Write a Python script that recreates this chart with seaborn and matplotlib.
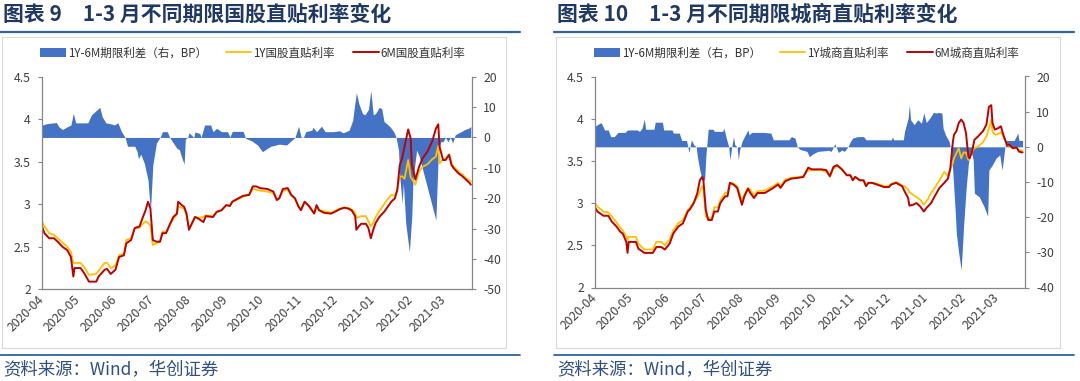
import matplotlib
matplotlib.use("Agg")
import matplotlib.pyplot as plt
import matplotlib.dates as mdates
from matplotlib.patches import Patch, Rectangle
from matplotlib.lines import Line2D
import seaborn as sns
import pandas as pd

# ---------------- 数据 ----------------
# 图表9：国股
gov_spread_dates = [
    "2020-04-01", "2020-04-06", "2020-04-13", "2020-04-15", "2020-04-18", "2020-04-21", "2020-04-25", "2020-04-27",
    "2020-04-29", "2020-05-09", "2020-05-12", "2020-05-15", "2020-05-19", "2020-05-21", "2020-05-24", "2020-05-29",
    "2020-05-31", "2020-06-03", "2020-06-06", "2020-06-09", "2020-06-11", "2020-06-17", "2020-06-19", "2020-06-20",
    "2020-06-22", "2020-06-25", "2020-06-28", "2020-06-30", "2020-07-02", "2020-07-05", "2020-07-08", "2020-07-10",
    "2020-07-14", "2020-07-16", "2020-07-19", "2020-07-22", "2020-07-24", "2020-07-26", "2020-07-28", "2020-07-29",
    "2020-07-31", "2020-08-01", "2020-08-03", "2020-08-05", "2020-08-06", "2020-08-10", "2020-08-11", "2020-08-14",
    "2020-08-19", "2020-08-21", "2020-08-24", "2020-08-28", "2020-09-02", "2020-09-04", "2020-09-06", "2020-09-15",
    "2020-09-17", "2020-09-22", "2020-09-27", "2020-10-01", "2020-10-05", "2020-10-08", "2020-10-15", "2020-10-21",
    "2020-10-24", "2020-10-28", "2020-10-31", "2020-11-02", "2020-11-04", "2020-11-06", "2020-11-11", "2020-11-12",
    "2020-11-15", "2020-11-19", "2020-11-22", "2020-11-29", "2020-12-04", "2020-12-07", "2020-12-12", "2020-12-15",
    "2020-12-16", "2020-12-18", "2020-12-20", "2020-12-23", "2020-12-25", "2020-12-28", "2020-12-30", "2021-01-01",
    "2021-01-03", "2021-01-06", "2021-01-08", "2021-01-10", "2021-01-12", "2021-01-15", "2021-01-18", "2021-01-20",
    "2021-01-22", "2021-01-23", "2021-01-25", "2021-01-26", "2021-01-28", "2021-01-31", "2021-02-02", "2021-02-03",
    "2021-02-06", "2021-02-08", "2021-02-22", "2021-02-24", "2021-02-26", "2021-02-28", "2021-03-02", "2021-03-04",
    "2021-03-06", "2021-03-08", "2021-03-10", "2021-03-12", "2021-03-15", "2021-03-18", "2021-03-21", "2021-03-23",
]
gov_spread = [
    4.1, 4.6, 4.9, 3.5, 2.6, 3.3, 4.1, 7.9,
    4.8, 4.8, 7.4, 8.5, 9.9, 6.8, 4.8, 4.4,
    4.1, 4.8, 1.9, 0.0, -2.9, -2.9, -4.7, -7.0,
    -5.5, -8.6, -14.0, -24.5, -9.1, -1.8, 0.0, 1.9,
    1.9, 0.0, -1.8, -3.6, -4.0, -6.6, -8.8, -0.5,
    0.0, 1.5, 0.8, 0.0, 1.8, 1.3, 0.0, 4.1,
    4.1, 1.9, 3.0, 1.9, 1.9, 0.2, 2.0, 2.0,
    -0.3, -1.1, -2.5, -4.7, -3.6, -2.9, -2.2, -2.5,
    -1.4, 0.0, 3.7, 0.2, 0.0, 1.9, 2.4, 3.3,
    1.9, 3.7, 1.9, 1.9, 2.2, 1.5, 2.4, 5.7,
    9.0, 14.7, 11.2, 7.9, 7.4, 9.2, 15.4, 7.4,
    7.9, 9.9, 9.5, 5.2, 4.6, 3.5, 1.9, 0.0,
    -4.2, -13.0, -21.7, -15.0, -28.3, -37.7, -26.0, -14.0,
    -4.2, -6.0, -27.2, -5.3, -1.4, -1.4, 0.0, -1.4,
    0.0, -1.8, 0.8, 1.3, 1.9, 2.6, 3.0, 3.6,
]
gov_rate_dates = [
    "2020-04-01", "2020-04-03", "2020-04-07", "2020-04-11", "2020-04-14", "2020-04-18", "2020-04-22", "2020-04-25",
    "2020-04-27", "2020-04-28", "2020-05-03", "2020-05-06", "2020-05-10", "2020-05-16", "2020-05-18", "2020-05-23",
    "2020-05-25", "2020-05-28", "2020-06-01", "2020-06-04", "2020-06-08", "2020-06-10", "2020-06-14", "2020-06-17",
    "2020-06-21", "2020-06-23", "2020-06-26", "2020-06-28", "2020-06-30", "2020-07-02", "2020-07-05", "2020-07-08",
    "2020-07-10", "2020-07-13", "2020-07-16", "2020-07-19", "2020-07-22", "2020-07-23", "2020-07-26", "2020-07-28",
    "2020-07-30", "2020-08-01", "2020-08-03", "2020-08-06", "2020-08-09", "2020-08-13", "2020-08-15", "2020-08-21",
    "2020-08-24", "2020-08-28", "2020-09-01", "2020-09-04", "2020-09-06", "2020-09-11", "2020-09-15", "2020-09-20",
    "2020-09-23", "2020-09-26", "2020-09-29", "2020-10-05", "2020-10-10", "2020-10-13", "2020-10-15", "2020-10-18",
    "2020-10-22", "2020-10-25", "2020-10-28", "2020-10-31", "2020-11-02", "2020-11-05", "2020-11-08", "2020-11-10",
    "2020-11-13", "2020-11-15", "2020-11-17", "2020-11-21", "2020-11-27", "2020-11-30", "2020-12-04", "2020-12-08",
    "2020-12-11", "2020-12-14", "2020-12-17", "2020-12-18", "2020-12-20", "2020-12-22", "2020-12-26", "2020-12-28",
    "2020-12-30", "2021-01-01", "2021-01-03", "2021-01-06", "2021-01-10", "2021-01-13", "2021-01-16", "2021-01-19",
    "2021-01-21", "2021-01-23", "2021-01-25", "2021-01-27", "2021-01-30", "2021-02-01", "2021-02-02", "2021-02-05",
    "2021-02-08", "2021-02-11", "2021-02-15", "2021-02-19", "2021-02-22", "2021-02-24", "2021-02-25", "2021-02-28",
    "2021-03-02", "2021-03-05", "2021-03-07", "2021-03-09", "2021-03-13", "2021-03-16", "2021-03-19", "2021-03-22",
    "2021-03-23",
]
gov_1y = [
    2.80, 2.74, 2.66, 2.64, 2.60, 2.55, 2.50, 2.44,
    2.31, 2.31, 2.31, 2.26, 2.17, 2.18, 2.22, 2.31,
    2.31, 2.25, 2.28, 2.40, 2.42, 2.58, 2.60, 2.72,
    2.72, 2.76, 2.80, 2.78, 2.75, 2.52, 2.54, 2.56,
    2.68, 2.67, 2.75, 2.83, 2.88, 2.97, 2.96, 2.95,
    2.87, 2.72, 2.76, 2.85, 2.84, 2.85, 2.87, 2.86,
    2.91, 2.93, 2.99, 2.98, 3.03, 3.06, 3.09, 3.11,
    3.18, 3.17, 3.16, 3.15, 3.13, 3.05, 3.07, 3.16,
    3.17, 3.10, 3.07, 2.98, 2.94, 3.02, 2.99, 2.96,
    2.90, 2.98, 2.93, 2.92, 2.90, 2.92, 2.95, 2.96,
    2.96, 2.94, 2.90, 2.84, 2.85, 2.86, 2.86, 2.80,
    2.74, 2.78, 2.85, 2.92, 3.00, 3.06, 3.11, 3.10,
    3.17, 3.32, 3.33, 3.30, 3.52, 3.32, 3.30, 3.23,
    3.38, 3.44, 3.47, 3.53, 3.56, 3.69, 3.48, 3.53,
    3.53, 3.59, 3.48, 3.44, 3.38, 3.35, 3.31, 3.28,
    3.27,
]
gov_6m = [
    2.74, 2.66, 2.60, 2.60, 2.56, 2.50, 2.46, 2.38,
    2.15, 2.25, 2.25, 2.19, 2.09, 2.09, 2.15, 2.23,
    2.24, 2.18, 2.23, 2.38, 2.40, 2.54, 2.58, 2.72,
    2.74, 2.82, 2.93, 3.03, 2.95, 2.58, 2.56, 2.56,
    2.66, 2.66, 2.76, 2.85, 2.89, 3.03, 2.99, 2.97,
    2.89, 2.70, 2.76, 2.85, 2.83, 2.79, 2.86, 2.85,
    2.91, 2.93, 2.99, 2.98, 3.03, 3.07, 3.10, 3.11,
    3.21, 3.21, 3.19, 3.18, 3.15, 3.05, 3.07, 3.18,
    3.19, 3.11, 3.07, 2.97, 2.93, 3.03, 2.99, 2.95,
    2.89, 2.99, 2.93, 2.90, 2.89, 2.91, 2.94, 2.96,
    2.95, 2.93, 2.86, 2.70, 2.74, 2.77, 2.77, 2.72,
    2.60, 2.70, 2.78, 2.85, 2.91, 2.97, 3.03, 3.07,
    3.17, 3.46, 3.54, 3.68, 3.88, 3.78, 3.48, 3.29,
    3.44, 3.54, 3.62, 3.74, 3.89, 3.94, 3.68, 3.52,
    3.52, 3.58, 3.46, 3.42, 3.36, 3.33, 3.29, 3.25,
    3.23,
]

# 图表10：城商
city_spread_dates = [
    "2020-04-01", "2020-04-03", "2020-04-06", "2020-04-09", "2020-04-12", "2020-04-14", "2020-04-17", "2020-04-20",
    "2020-04-26", "2020-04-28", "2020-05-06", "2020-05-08", "2020-05-10", "2020-05-12", "2020-05-13", "2020-05-20",
    "2020-05-21", "2020-05-27", "2020-05-28", "2020-06-04", "2020-06-05", "2020-06-10", "2020-06-12", "2020-06-16",
    "2020-06-18", "2020-06-20", "2020-06-22", "2020-06-24", "2020-06-25", "2020-06-27", "2020-06-29", "2020-07-01",
    "2020-07-02", "2020-07-04", "2020-07-08", "2020-07-09", "2020-07-16", "2020-07-17", "2020-07-19", "2020-07-21",
    "2020-07-22", "2020-07-24", "2020-07-25", "2020-07-26", "2020-07-28", "2020-07-29", "2020-07-30", "2020-08-01",
    "2020-08-03", "2020-08-06", "2020-08-07", "2020-08-09", "2020-08-19", "2020-08-25", "2020-08-27", "2020-09-09",
    "2020-09-11", "2020-09-14", "2020-09-16", "2020-09-18", "2020-09-24", "2020-09-26", "2020-09-29", "2020-10-03",
    "2020-10-12", "2020-10-14", "2020-10-16", "2020-10-17", "2020-10-19", "2020-10-20", "2020-10-23", "2020-10-25",
    "2020-10-28", "2020-10-30", "2020-11-01", "2020-11-05", "2020-11-10", "2020-11-12", "2020-12-03", "2020-12-04",
    "2020-12-05", "2020-12-13", "2020-12-14", "2020-12-17", "2020-12-18", "2020-12-19", "2020-12-22", "2020-12-25",
    "2020-12-28", "2020-12-30", "2021-01-01", "2021-01-04", "2021-01-07", "2021-01-10", "2021-01-11", "2021-01-14",
    "2021-01-15", "2021-01-17", "2021-01-20", "2021-01-21", "2021-01-23", "2021-01-25", "2021-01-26", "2021-01-28",
    "2021-01-30", "2021-02-01", "2021-02-03", "2021-02-05", "2021-02-07", "2021-02-09", "2021-02-10", "2021-02-14",
    "2021-02-18", "2021-02-21", "2021-02-22", "2021-02-25", "2021-02-28", "2021-03-03", "2021-03-05", "2021-03-07",
    "2021-03-08", "2021-03-15", "2021-03-18", "2021-03-19", "2021-03-22",
]
city_spread = [
    5.8, 6.3, 6.9, 4.8, 4.8, 2.9, 2.9, 4.1,
    4.1, 4.8, 4.8, 4.4, 5.3, 7.9, 5.0, 5.0,
    7.0, 7.0, 4.8, 4.8, 3.9, 3.9, 1.8, 1.8,
    -1.6, 2.0, 0.6, 0.0, -2.8, -6.6, -9.4, -9.4,
    -2.8, 5.0, 5.0, 4.4, 4.4, 5.3, 2.5, 0.0,
    -3.7, 1.0, 2.9, 0.6, 0.0, -3.7, -1.0, 1.5,
    2.9, 4.8, 3.4, 4.1, 4.1, 3.9, 2.0, 2.0,
    2.9, 2.5, 0.0, -0.7, -1.3, -2.8, -2.0, -1.3,
    -1.0, -1.3, 0.0, 0.9, -0.7, -1.6, -0.9, -1.3,
    0.0, 1.5, 2.5, 2.9, 2.9, 2.0, 2.0, 2.8,
    2.0, 2.0, 4.4, 8.2, 12.0, 7.7, 6.3, 7.7,
    6.7, 9.6, 6.9, 8.2, 9.8, 9.6, 9.8, 9.6,
    5.3, 3.4, 1.5, 0.0, -6.6, -18.0, -24.6, -30.3,
    -35.0, -22.7, -12.3, -4.7, -0.9, -3.7, -13.2, -14.2,
    -17.0, -19.7, -6.6, -5.1, -3.2, -2.3, -6.6, -0.9,
    1.8, 1.8, 3.9, 1.8, 1.8,
]
city_rate_dates = [
    "2020-04-01", "2020-04-03", "2020-04-08", "2020-04-12", "2020-04-15", "2020-04-19", "2020-04-22", "2020-04-24",
    "2020-04-27", "2020-04-28", "2020-04-29", "2020-05-05", "2020-05-07", "2020-05-12", "2020-05-19", "2020-05-22",
    "2020-05-26", "2020-05-29", "2020-06-02", "2020-06-05", "2020-06-09", "2020-06-13", "2020-06-17", "2020-06-19",
    "2020-06-22", "2020-06-25", "2020-06-27", "2020-06-29", "2020-06-30", "2020-07-02", "2020-07-04", "2020-07-07",
    "2020-07-09", "2020-07-12", "2020-07-14", "2020-07-18", "2020-07-20", "2020-07-22", "2020-07-25", "2020-07-28",
    "2020-07-30", "2020-08-01", "2020-08-03", "2020-08-06", "2020-08-08", "2020-08-11", "2020-08-14", "2020-08-20",
    "2020-08-27", "2020-08-31", "2020-09-02", "2020-09-06", "2020-09-11", "2020-09-17", "2020-09-21", "2020-09-25",
    "2020-09-28", "2020-10-06", "2020-10-10", "2020-10-13", "2020-10-16", "2020-10-19", "2020-10-23", "2020-10-27",
    "2020-10-30", "2020-11-01", "2020-11-03", "2020-11-07", "2020-11-10", "2020-11-12", "2020-11-14", "2020-11-17",
    "2020-11-21", "2020-11-27", "2020-12-01", "2020-12-03", "2020-12-07", "2020-12-12", "2020-12-14", "2020-12-17",
    "2020-12-18", "2020-12-21", "2020-12-24", "2020-12-27", "2020-12-30", "2021-01-01", "2021-01-03", "2021-01-05",
    "2021-01-08", "2021-01-12", "2021-01-16", "2021-01-19", "2021-01-21", "2021-01-23", "2021-01-24", "2021-01-26",
    "2021-01-28", "2021-01-30", "2021-02-01", "2021-02-03", "2021-02-05", "2021-02-06", "2021-02-08", "2021-02-10",
    "2021-02-13", "2021-02-17", "2021-02-20", "2021-02-22", "2021-02-24", "2021-02-25", "2021-02-27", "2021-03-02",
    "2021-03-04", "2021-03-06", "2021-03-09", "2021-03-11", "2021-03-14", "2021-03-17", "2021-03-19", "2021-03-22",
]
city_1y = [
    3.00, 2.96, 2.90, 2.89, 2.84, 2.77, 2.71, 2.68,
    2.60, 2.56, 2.60, 2.60, 2.52, 2.45, 2.45, 2.54,
    2.54, 2.50, 2.57, 2.68, 2.76, 2.80, 2.92, 2.95,
    3.01, 3.07, 3.13, 3.20, 3.17, 2.84, 2.82, 2.82,
    2.95, 2.95, 3.03, 3.12, 3.12, 3.24, 3.23, 3.20,
    3.12, 3.02, 3.10, 3.18, 3.16, 3.09, 3.14, 3.15,
    3.20, 3.24, 3.20, 3.28, 3.30, 3.31, 3.32, 3.39,
    3.39, 3.39, 3.37, 3.31, 3.41, 3.44, 3.40, 3.33,
    3.33, 3.28, 3.31, 3.27, 3.27, 3.21, 3.24, 3.24,
    3.23, 3.20, 3.20, 3.23, 3.25, 3.21, 3.20, 3.16,
    3.13, 3.10, 3.07, 3.04, 2.98, 3.02, 3.06, 3.12,
    3.18, 3.27, 3.37, 3.32, 3.41, 3.47, 3.53, 3.59,
    3.65, 3.53, 3.60, 3.60, 3.51, 3.53, 3.61, 3.65,
    3.67, 3.72, 3.79, 3.88, 3.99, 3.85, 3.81, 3.82,
    3.84, 3.79, 3.69, 3.68, 3.65, 3.66, 3.63, 3.62,
]
city_6m = [
    2.95, 2.90, 2.85, 2.85, 2.78, 2.72, 2.66, 2.64,
    2.54, 2.41, 2.54, 2.54, 2.46, 2.41, 2.41, 2.48,
    2.48, 2.45, 2.52, 2.64, 2.72, 2.76, 2.90, 2.93,
    3.00, 3.12, 3.27, 3.31, 3.27, 2.92, 2.80, 2.80,
    2.90, 2.90, 3.00, 3.08, 3.08, 3.24, 3.22, 3.18,
    3.08, 2.98, 3.08, 3.17, 3.12, 3.06, 3.12, 3.12,
    3.18, 3.22, 3.18, 3.26, 3.29, 3.30, 3.31, 3.42,
    3.40, 3.40, 3.39, 3.32, 3.43, 3.45, 3.40, 3.33,
    3.33, 3.27, 3.31, 3.27, 3.27, 3.20, 3.24, 3.24,
    3.22, 3.19, 3.19, 3.22, 3.24, 3.20, 3.14, 3.06,
    2.97, 2.98, 3.00, 2.96, 2.90, 2.94, 2.97, 3.00,
    3.08, 3.18, 3.24, 3.29, 3.41, 3.71, 3.81, 3.85,
    3.95, 3.99, 3.95, 3.83, 3.55, 3.53, 3.61, 3.75,
    3.79, 3.85, 3.93, 4.14, 4.16, 3.95, 3.87, 3.89,
    3.91, 3.81, 3.69, 3.69, 3.65, 3.66, 3.61, 3.60,
]

month_format = "%Y-%m"
x_start, x_end = "2020-04-01", "2021-03-24"

# ---------------- 样式 ----------------
sns.set_theme(style="white")
plt.rcParams['font.family'] = ['Noto Sans CJK SC', 'DejaVu Sans']
plt.rcParams['axes.unicode_minus'] = False

W, H = 1080, 381
BLUE = '#4472C4'
GOLD = '#FFC000'
RED = '#C00000'
NAVY = '#1F3864'
RULE = '#2E64A0'
AXIS = '#868686'
TICK = '#404040'

fig = plt.figure(figsize=(W / 100, H / 100), dpi=100)
fig.patch.set_facecolor('white')


def fx(x):
    return x / W


def fy(y):
    return 1 - y / H


def draw_panel(left, right, top, bottom, s_dates, s_vals, r_dates, r_1y, r_6m, y2lim, y2ticks):
    '''Un panel: área del diferencial (eje derecho) + dos líneas de tipos (eje izquierdo).'''
    ax = fig.add_axes([fx(left), fy(bottom), fx(right - left), (bottom - top) / H])
    ax2 = ax.twinx()

    ax2.fill_between(pd.to_datetime(s_dates), 0, s_vals, color=BLUE, lw=0)
    sns.lineplot(x=pd.to_datetime(r_dates), y=r_1y, ax=ax, color=GOLD, lw=1.3)
    sns.lineplot(x=pd.to_datetime(r_dates), y=r_6m, ax=ax, color=RED, lw=1.4)

    # lines above the area
    ax.set_zorder(ax2.get_zorder() + 1)
    ax.patch.set_visible(False)

    ax.set_xlim(pd.Timestamp(x_start), pd.Timestamp(x_end))
    ax.set_ylim(2, 4.5)
    ax.set_yticks([2, 2.5, 3, 3.5, 4, 4.5])
    ax.set_yticklabels([f'{v:g}' for v in [2, 2.5, 3, 3.5, 4, 4.5]])
    ax2.set_ylim(*y2lim)
    ax2.set_yticks(y2ticks)
    ax2.set_yticklabels([f'{v:g}' for v in y2ticks])

    ax.xaxis.set_major_locator(mdates.MonthLocator())
    ax.xaxis.set_major_formatter(mdates.DateFormatter(month_format))
    for lab in ax.get_xticklabels():
        lab.set_rotation(45)
        lab.set_ha('right')
        lab.set_va('center')
        lab.set_rotation_mode('anchor')

    ax.set_xlabel('')
    ax.set_ylabel('')
    ax.tick_params(axis='x', length=0, pad=6, labelsize=8.8, labelcolor=TICK)
    ax.tick_params(axis='y', length=3, width=0.8, color=AXIS, pad=5, labelsize=8.8, labelcolor=TICK, left=True)
    ax2.tick_params(axis='y', length=3, width=0.8, color=AXIS, pad=5, labelsize=8.8, labelcolor=TICK, right=True)

    for side in ['top', 'right']:
        ax.spines[side].set_visible(False)
    for side in ['left', 'bottom']:
        ax.spines[side].set_color(AXIS)
        ax.spines[side].set_linewidth(0.9)
    for side in ['top', 'left', 'bottom']:
        ax2.spines[side].set_visible(False)
    ax2.spines['right'].set_color(AXIS)
    ax2.spines['right'].set_linewidth(0.9)
    ax.grid(False)
    ax2.grid(False)
    return ax, ax2


def decorate(x0, x1, title, frame_right, legend_cx, names):
    # título y reglas
    fig.text(fx(x0 + 3), fy(14), title, fontsize=15, fontweight='bold', color=NAVY,
             ha='left', va='center')
    fig.add_artist(Line2D([fx(x0), fx(x1)], [fy(31.5), fy(31.5)], color=RULE, lw=1.6))
    fig.add_artist(Rectangle((fx(x0 + 2), fy(348)), fx(frame_right - x0 - 2), (348 - 37) / H,
                             transform=fig.transFigure, fill=False, ec='#D9D9D9', lw=0.8))
    fig.add_artist(Line2D([fx(x0), fx(x1)], [fy(354.5), fy(354.5)], color=RULE, lw=1.3))
    fig.text(fx(x0 + 3), fy(370), '资料来源：Wind，华创证券', fontsize=12.5, style='italic',
             color='#2F4F86', ha='left', va='center')

    handles = [Patch(facecolor=BLUE, edgecolor='none'),
               Line2D([], [], color=GOLD, lw=1.3),
               Line2D([], [], color=RED, lw=1.4)]
    fig.legend(handles, names, loc='center', bbox_to_anchor=(fx(legend_cx), fy(53)), ncol=3,
               frameon=False, fontsize=8.3, handlelength=2.2, handleheight=0.7,
               handletextpad=0.2, columnspacing=1.6, labelcolor='#333333')


draw_panel(42, 472, 76.7, 289.3, gov_spread_dates, gov_spread, gov_rate_dates, gov_1y, gov_6m,
           (-50, 20), list(range(-50, 21, 10)))
decorate(0, 520, '图表 9　1-3 月不同期限国股直贴利率变化', 506, 253,
         ['1Y-6M期限利差（右，BP）', '1Y国股直贴利率', '6M国股直贴利率'])

draw_panel(595, 1025, 76.5, 287.5, city_spread_dates, city_spread, city_rate_dates, city_1y, city_6m,
           (-40, 20), list(range(-40, 21, 10)))
decorate(554, 1074, '图表 10　1-3 月不同期限城商直贴利率变化', 1060, 807,
         ['1Y-6M期限利差（右，BP）', '1Y城商直贴利率', '6M城商直贴利率'])

fig.savefig('out.png', dpi=100, facecolor='white')
